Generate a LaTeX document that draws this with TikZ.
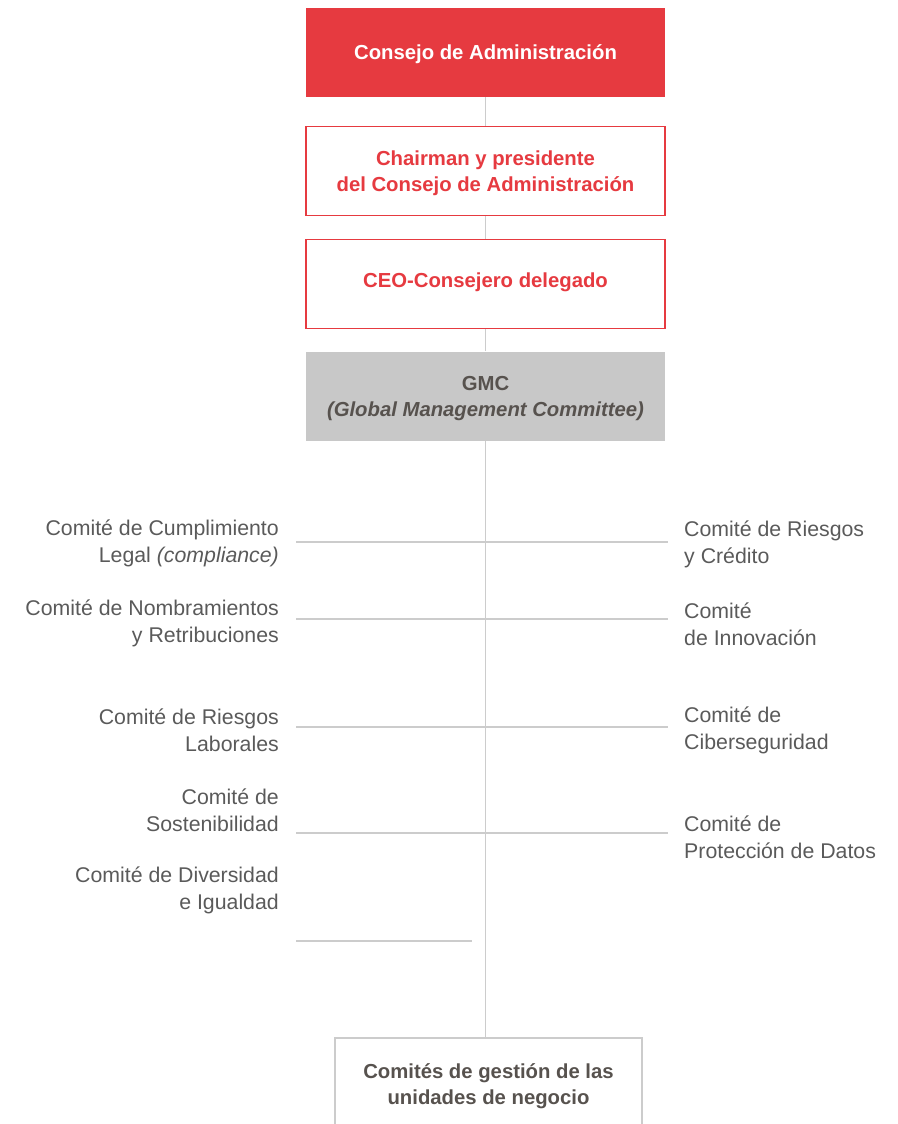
\documentclass[tikz,border=0pt]{standalone}
\usepackage{fontspec}
\setmainfont{Liberation Sans}
\usetikzlibrary{positioning}
\definecolor{rojo}{HTML}{E63A40}
\definecolor{grisbox}{HTML}{C8C8C8}
\definecolor{grisline}{HTML}{CCCCCC}
\definecolor{gristext}{HTML}{57524E}
\definecolor{grislabel}{HTML}{5A5A5A}

\begin{document}
\begin{tikzpicture}[x=1pt, y={(0pt,-1pt)},
	box/.style={minimum width=359pt, minimum height=89pt, inner sep=0pt, align=center,
		text depth=0pt, font=\bfseries\fontsize{20.3}{26}\selectfont},
	redbox/.style={box, fill=rojo, text=white},
	redframe/.style={box, draw=rojo, fill=white, text=rojo, line width=1.2pt},
	graybox/.style={box, fill=grisbox, text=gristext},
	unitbox/.style={box, minimum width=307pt, minimum height=93pt, draw=grisline, line width=1.3pt, text=gristext},
	comite/.style={text=grislabel, inner sep=0pt, font=\fontsize{21.3}{27}\selectfont},
	link/.style={draw=grisline, line width=1.3pt}]
	\useasboundingbox (0,0) rectangle (897,1124);
	%boxes
	\node[redbox] (consejo) at (485.5,52.5) {Consejo de Administración};
	\node[redframe] (chairman) at (485.5,171) {Chairman y presidente\\del Consejo de Administración};
	\node[redframe, text depth=8pt] (ceo) at (485.5,284) {CEO-Consejero delegado};
	\node[graybox] (gmc) at (485.5,396) {GMC\\\textit{(Global Management Committee)}};
	\node[unitbox] (unidades) at (488.5,1084.5) {Comités de gestión de las\\unidades de negocio};
	%spine
	\draw[link] (consejo.south) -- (chairman.north);
	\draw[link] (chairman.south) -- (ceo.north);
	\draw[link] (ceo.south) -- (gmc.north);
	\draw[link] (gmc.south) -- (gmc.south |- unidades.north);
	%branches
	\foreach \i/\y in {1/542, 2/619, 3/727, 4/833}
	{
		\coordinate (hl\i) at (296,\y);
		\coordinate (hr\i) at (668,\y);
		\draw[link] (hl\i) -- (hr\i);
	}
	\coordinate (hl5) at (296,941);
	\coordinate (hr5) at (472,941);
	\draw[link] (hl5) -- (hr5);
	%committees left
	\node[comite, anchor=east, align=right] (cumplimiento) at (279,543.5) {Comité de Cumplimiento\\Legal \textit{(compliance)}};
	\node[comite, anchor=east, align=right] (nombramientos) at (279,623) {Comité de Nombramientos\\y Retribuciones};
	\node[comite, anchor=east, align=right] (laborales) at (279,730.5) {Comité de Riesgos\\Laborales};
	\node[comite, anchor=east, align=right] (sostenibilidad) at (279,810.5) {Comité de\\Sostenibilidad};
	\node[comite, anchor=east, align=right] (diversidad) at (279,890.5) {Comité de Diversidad\\e Igualdad};
	%committees right
	\node[comite, anchor=west, align=left] (credito) at (684,544) {Comité de Riesgos\\y Crédito};
	\node[comite, anchor=west, align=left] (innovacion) at (684,624) {Comité\\de Innovación};
	\node[comite, anchor=west, align=left] (ciber) at (684,730.5) {Comité de\\Ciberseguridad};
	\node[comite, anchor=west, align=left] (datos) at (684,837) {Comité de\\Protección de Datos};
\end{tikzpicture}
\end{document}
